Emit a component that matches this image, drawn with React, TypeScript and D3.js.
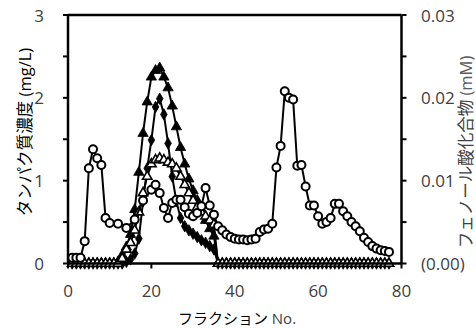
import React from 'react';
import * as d3 from 'd3';

// fraction numbers for the protein series
const fractions = d3.range(1, 78);

// protein (mg/L) - filled triangles
const proteinTri = [
  0, 0, 0, 0, 0, 0, 0, 0, 0, 0, 0,
  0.02, 0.1, 0.2, 0.35, 0.65, 1.1, 1.57, 1.95, 2.25, 2.33, 2.36, 2.25, 2.12, 1.9, 1.65, 1.4, 1.2, 1.02, 0.88, 0.76, 0.64, 0.52, 0.42, 0.33,
  0, 0, 0, 0, 0, 0, 0, 0, 0, 0, 0, 0, 0, 0, 0, 0, 0, 0, 0, 0, 0,
  0, 0, 0, 0, 0, 0, 0, 0, 0, 0, 0, 0, 0, 0, 0, 0, 0, 0, 0, 0, 0,
];
// protein (mg/L) - filled diamonds
const proteinDia = [
  0, 0, 0, 0, 0, 0, 0, 0, 0, 0, 0, 0, 0,
  0.02, 0.05, 0.12, 0.3, 0.75, 1.15, 1.49, 1.89, 1.99, 1.8, 1.45, 1.05, 0.75, 0.55, 0.45, 0.4, 0.36, 0.32, 0.28, 0.25, 0.21, 0.17,
  0, 0, 0, 0, 0, 0, 0, 0, 0, 0, 0, 0, 0, 0, 0, 0, 0, 0, 0, 0, 0,
  0, 0, 0, 0, 0, 0, 0, 0, 0, 0, 0, 0, 0, 0, 0, 0, 0, 0, 0, 0, 0,
];
// protein (mg/L) - open triangles
const proteinOpen = [
  0, 0, 0, 0, 0, 0, 0, 0, 0, 0, 0, 0,
  0.06, 0.17, 0.25, 0.4, 0.62, 0.85, 1.05, 1.2, 1.25, 1.27, 1.25, 1.22, 1.2, 1.15, 1.05, 0.95, 0.85, 0.76, 0.68, 0.62, 0.57, 0.52, 0.47,
  0, 0, 0, 0, 0, 0, 0, 0, 0, 0, 0, 0, 0, 0, 0, 0, 0, 0, 0, 0, 0,
  0, 0, 0, 0, 0, 0, 0, 0, 0, 0, 0, 0, 0, 0, 0, 0, 0, 0, 0, 0, 0,
];

// phenolic compounds (mM) - open circles
const phenolFractions = [
  1, 2, 3, 4, 5, 6, 7, 8, 9, 10, 12, 14, 16, 18, 20, 21, 22, 23, 24, 25, 26, 27, 28, 29, 30,
  31, 32, 33, 34, 35, 36, 37, 38, 39, 40, 41, 42, 43, 44, 45, 46, 47, 48, 49, 50, 51, 52, 53,
  54, 55, 56, 57, 58, 59, 60, 61, 62, 63, 64, 65, 66, 67, 68, 69, 70, 71, 72, 73, 74, 75, 76, 77,
];
const phenolValues = [
  0.0007, 0.0007, 0.0007, 0.0027, 0.0115, 0.0138, 0.0127, 0.0119, 0.0055, 0.0049, 0.0048, 0.0043, 0.0053, 0.0076,
  0.0089, 0.0095, 0.0085, 0.0067, 0.0055, 0.0073, 0.0077, 0.0077, 0.0068, 0.006, 0.0057,
  0.0061, 0.0069, 0.0091, 0.007, 0.0059, 0.0045, 0.004, 0.0035, 0.0032, 0.003, 0.0029, 0.0029, 0.0028, 0.0029, 0.003,
  0.0038, 0.0041, 0.0042, 0.0048, 0.0116, 0.0142, 0.0208, 0.02,
  0.0198, 0.0118, 0.0119, 0.0093, 0.007, 0.007, 0.0057, 0.0048, 0.005, 0.0055, 0.0072, 0.0072, 0.0063, 0.0057,
  0.005, 0.0045, 0.0039, 0.0031, 0.0026, 0.0021, 0.0018, 0.0016, 0.0015, 0.0014,
];

const xTicks = [0, 20, 40, 60, 80];
const leftTicks = [0, 1, 2, 3];
const leftMinor = [0.5, 1.5, 2.5];
const rightTicks = [0, 0.01, 0.02, 0.03];
const rightTickLabels = ['(0.00)', '0.01', '0.02', '0.03'];
const rightMinor = [0.005, 0.015, 0.025];

const W = 476;
const H = 328;
const numFont = '"Open Sans", "Noto Sans", sans-serif';
const jpFont = '"Noto Sans CJK JP", "Noto Sans", sans-serif';
const gray = '#404040';

const x = d3.scaleLinear().domain([0, 80]).range([68, 401.5]);
const yL = d3.scaleLinear().domain([0, 3]).range([263.5, 15]);
const yR = d3.scaleLinear().domain([0, 0.03]).range([263.5, 15]);

const line = d3.line<[number, number]>().x(d => d[0]).y(d => d[1]);

const triPath = d3.symbol().type(d3.symbolTriangle).size(46)() as string;
const diaPath = d3.symbol().type(d3.symbolDiamond).size(38)() as string;
const openTriPath = d3.symbol().type(d3.symbolTriangle).size(38)() as string;

const Series = ({ pts, path, fill, r }: { pts: [number, number][]; path?: string; fill: string; r?: number }) => (
  <g>
    <path d={line(pts) as string} fill="none" stroke="#000" strokeWidth={2} strokeLinejoin="round" />
    {pts.map((p, i) =>
      r ? (
        <circle key={i} cx={p[0]} cy={p[1]} r={r} fill={fill} stroke="#000" strokeWidth={2} />
      ) : (
        <path key={i} d={path} transform={`translate(${p[0]},${p[1]})`} fill={fill} stroke="#000" strokeWidth={fill === '#000' ? 0.8 : 1.6} />
      )
    )}
  </g>
);

export default function App() {
  const triPts = fractions.map((f, i) => [x(f), yL(proteinTri[i])] as [number, number]);
  const diaPts = fractions.map((f, i) => [x(f), yL(proteinDia[i])] as [number, number]);
  const openPts = fractions.map((f, i) => [x(f), yL(proteinOpen[i])] as [number, number]);
  const phenolPts = phenolFractions.map((f, i) => [x(f), yR(phenolValues[i])] as [number, number]);

  const x0 = x(0);
  const x1 = x(80);
  const yb = yL(0);
  const yt = yL(3);

  return (
    <svg width={W} height={H} style={{ position: 'absolute', left: 0, top: 0, background: '#fff' }}>
      {/* series */}
      <Series pts={diaPts} path={diaPath} fill="#000" />
      <Series pts={triPts} path={triPath} fill="#000" />
      <Series pts={openPts} path={openTriPath} fill="#fff" />
      <Series pts={phenolPts} fill="#fff" r={4} />

      {/* frame */}
      <line x1={x0} x2={x1} y1={yt} y2={yt} stroke="#000" strokeWidth={2.5} />
      <line x1={x0} x2={x1} y1={yb} y2={yb} stroke="#000" strokeWidth={2.5} />
      <line x1={x0} x2={x0} y1={yt} y2={yb} stroke="#000" strokeWidth={2.5} />
      <line x1={x1} x2={x1} y1={yt} y2={yb} stroke="#000" strokeWidth={2.5} />

      {/* x axis */}
      {xTicks.map(t => (
        <g key={t}>
          <line x1={x(t)} x2={x(t)} y1={yb} y2={yb + 5} stroke="#000" strokeWidth={2} />
          <text x={x(t)} y={290} textAnchor="middle" dominantBaseline="central" fontFamily={numFont} fontSize={17} fill={gray}>
            {t}
          </text>
        </g>
      ))}

      {/* left axis */}
      {leftTicks.map(t => (
        <g key={t}>
          <line x1={x0 - 5} x2={x0} y1={yL(t)} y2={yL(t)} stroke="#000" strokeWidth={2} />
          <text x={44} y={yL(t)} textAnchor="end" dominantBaseline="central" fontFamily={numFont} fontSize={17} fill={gray}>
            {t}
          </text>
        </g>
      ))}
      {leftMinor.map(t => (
        <line key={t} x1={x0 - 5} x2={x0} y1={yL(t)} y2={yL(t)} stroke="#000" strokeWidth={2} />
      ))}

      {/* right axis */}
      {rightTicks.map((t, i) => (
        <g key={t}>
          <line x1={x1} x2={x1 + 5} y1={yR(t)} y2={yR(t)} stroke="#000" strokeWidth={2} />
          <text x={421} y={yR(t)} textAnchor="start" dominantBaseline="central" fontFamily={numFont} fontSize={17} fill={gray}>
            {rightTickLabels[i]}
          </text>
        </g>
      ))}
      {rightMinor.map(t => (
        <line key={t} x1={x1} x2={x1 + 5} y1={yR(t)} y2={yR(t)} stroke="#000" strokeWidth={2} />
      ))}

      {/* axis titles */}
      <text transform="translate(31,132) rotate(-90)" textAnchor="middle" fontSize={16.5} fill="#000">
        <tspan fontFamily={jpFont}>タンパク質濃度</tspan>
        <tspan fontFamily={numFont}> (mg/L)</tspan>
      </text>
      <text transform="translate(472,152) rotate(-90)" textAnchor="middle" fontSize={16.5} fill={gray}>
        <tspan fontFamily={jpFont}>フェノール酸化合物</tspan>
        <tspan fontFamily={numFont} fill="#595959"> (mM)</tspan>
      </text>
      <text x={237} y={324} textAnchor="middle" fontSize={15} fill="#000">
        <tspan fontFamily={jpFont}>フラクション</tspan>
        <tspan fontFamily={numFont} fill={gray}> No.</tspan>
      </text>
    </svg>
  );
}
